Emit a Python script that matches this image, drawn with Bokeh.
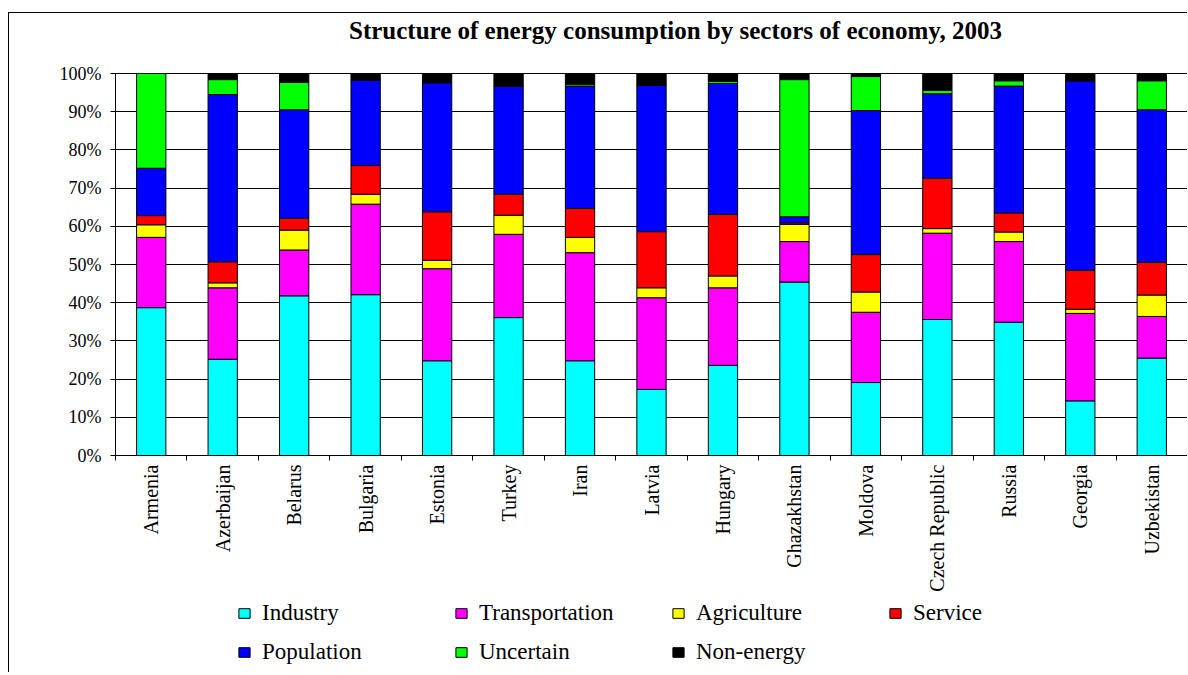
import math
from bokeh.plotting import figure
from bokeh.layouts import column
from bokeh.models import (FixedTicker, PrintfTickFormatter, Legend, LegendItem,
                          ColumnDataSource, Range1d, Div)
from bokeh.embed import file_html
from bokeh.resources import INLINE

countries = ["Armenia", "Azerbaijan", "Belarus", "Bulgaria", "Estonia", "Turkey",
             "Iran", "Latvia", "Hungary", "Ghazakhstan", "Moldova",
             "Czech Republic", "Russia", "Georgia", "Uzbekistan"]

industry       = [38.7, 25.2, 41.8, 42.1, 24.8, 36.1, 24.8, 17.3, 23.6, 45.4, 19.1, 35.6, 34.9, 14.3, 25.5]
transportation = [18.4, 18.7, 12.0, 23.7, 24.1, 21.8, 28.3, 24.0, 20.3, 10.6, 18.4, 22.6, 21.1, 22.9, 10.9]
agriculture    = [3.3, 1.3, 5.2, 2.6, 2.2, 5.0, 4.0, 2.6, 3.1, 4.5, 5.3, 1.2, 2.5, 1.1, 5.6]
service        = [2.4, 5.5, 3.1, 7.5, 12.7, 5.5, 7.6, 14.7, 16.1, 0.4, 9.8, 13.2, 5.0, 10.2, 8.6]
population     = [12.4, 43.8, 28.4, 22.4, 33.8, 28.2, 32.0, 38.3, 34.3, 1.6, 37.7, 22.1, 33.2, 49.6, 39.9]
uncertain      = [24.8, 3.9, 7.2, 0.0, 0.0, 0.0, 0.5, 0.0, 0.6, 35.9, 8.9, 0.9, 1.4, 0.0, 7.6]
non_energy     = [0.0, 1.6, 2.3, 1.7, 2.4, 3.4, 2.8, 3.1, 2.0, 1.6, 0.8, 4.4, 1.9, 1.9, 1.9]

sectors = ["Industry", "Transportation", "Agriculture", "Service",
           "Population", "Uncertain", "Non-energy"]
colors = ["#00FFFF", "#FF00FF", "#FFFF00", "#FF0000", "#0000FF", "#00FF00", "#000000"]

title_text = "Structure of energy consumption by sectors of economy, 2003"

y_ticks = [0, 10, 20, 30, 40, 50, 60, 70, 80, 90, 100]

centers = [i + 0.5 for i in range(len(countries))]
bounds = [float(i) for i in range(len(countries) + 1)]

src = ColumnDataSource(dict(
    x=centers,
    Industry=industry, Transportation=transportation, Agriculture=agriculture,
    Service=service, Population=population, Uncertain=uncertain,
    **{"Non-energy": non_energy},
))

SERIF = "Liberation Serif"
W = 1179

# ---- Title -------------------------------------------------------------
title_div = Div(
    text=('<div style="padding-left:340px; padding-top:8px; line-height:20px; '
          'white-space:nowrap; font-family:\'Liberation Serif\'; font-size:25px; '
          'font-weight:bold; color:#000;">' + title_text + '</div>'),
    width=W, height=51, margin=0,
    styles={"border-left": "1px solid #000", "border-top": "1px solid #000"})

# ---- Main chart --------------------------------------------------------
p = figure(width=W, height=537, title=None,
           x_range=Range1d(0, len(countries)), y_range=Range1d(0, 100),
           output_backend="svg", toolbar_location=None,
           min_border_left=106, min_border_right=1,
           min_border_top=10, min_border_bottom=145, margin=0)
p.styles = {"border-left": "1px solid #000"}

p.vbar_stack(sectors, x="x", width=0.41, source=src,
             fill_color=colors, line_color="black", line_width=1)

p.yaxis.ticker = FixedTicker(ticks=y_ticks)
p.yaxis.formatter = PrintfTickFormatter(format="%d%%")
p.yaxis.major_label_text_font = SERIF
p.yaxis.major_label_text_font_size = "18px"
p.yaxis.major_label_text_color = "black"
p.yaxis.major_tick_out = 5
p.yaxis.major_tick_in = 0
p.yaxis.minor_tick_line_color = None
p.yaxis.major_label_standoff = 9
p.yaxis.axis_line_color = "black"
p.yaxis.major_tick_line_color = "black"

p.xaxis.ticker = FixedTicker(ticks=centers, minor_ticks=bounds)
p.xaxis.major_label_overrides = {c: n for c, n in zip(centers, countries)}
p.xaxis.major_label_orientation = math.pi / 2
p.xaxis.major_label_text_font = SERIF
p.xaxis.major_label_text_font_size = "20px"
p.xaxis.major_label_text_color = "black"
p.xaxis.major_tick_out = 0
p.xaxis.major_tick_in = 0
p.xaxis.minor_tick_out = 5
p.xaxis.minor_tick_in = 0
p.xaxis.minor_tick_line_color = "black"
p.xaxis.major_label_standoff = 4
p.xaxis.axis_line_color = "black"

p.xgrid.visible = False
p.ygrid.ticker = FixedTicker(ticks=y_ticks)
p.ygrid.grid_line_color = "black"
p.ygrid.grid_line_width = 1
p.outline_line_color = "black"
p.outline_line_width = 1

# ---- Legend strip (its frame is aligned with the chart's frame) ---------
lg = figure(width=W, height=72, x_range=Range1d(-3, -2), y_range=Range1d(0, 100),
            output_backend="svg", toolbar_location=None, title=None,
            min_border=0, x_axis_type=None, y_axis_type=None, margin=0)
lg.outline_line_color = None
lg.grid.visible = False
lg.styles = {"border-left": "1px solid #000"}

# same stacked series, kept out of the strip's view; only their swatches show
swatches = lg.vbar_stack(sectors, x="x", width=0.41, source=src,
                         fill_color=colors, line_color="black", line_width=1)
items = [LegendItem(label=s, renderers=[r]) for s, r in zip(sectors, swatches)]
legend = Legend(items=items, orientation="horizontal", ncols=4,
                location=(122, 6), padding=0, margin=0, spacing=10,
                glyph_width=14, glyph_height=12, label_standoff=11,
                label_width=182, label_height=29,
                label_text_font=SERIF, label_text_font_size="23px",
                label_text_color="black",
                border_line_color=None, background_fill_alpha=0)
lg.add_layout(legend, "center")

layout = column(title_div, p, lg, spacing=0, margin=(12, 0, 0, 8))

open("out.html", "w").write(file_html(layout, INLINE))
